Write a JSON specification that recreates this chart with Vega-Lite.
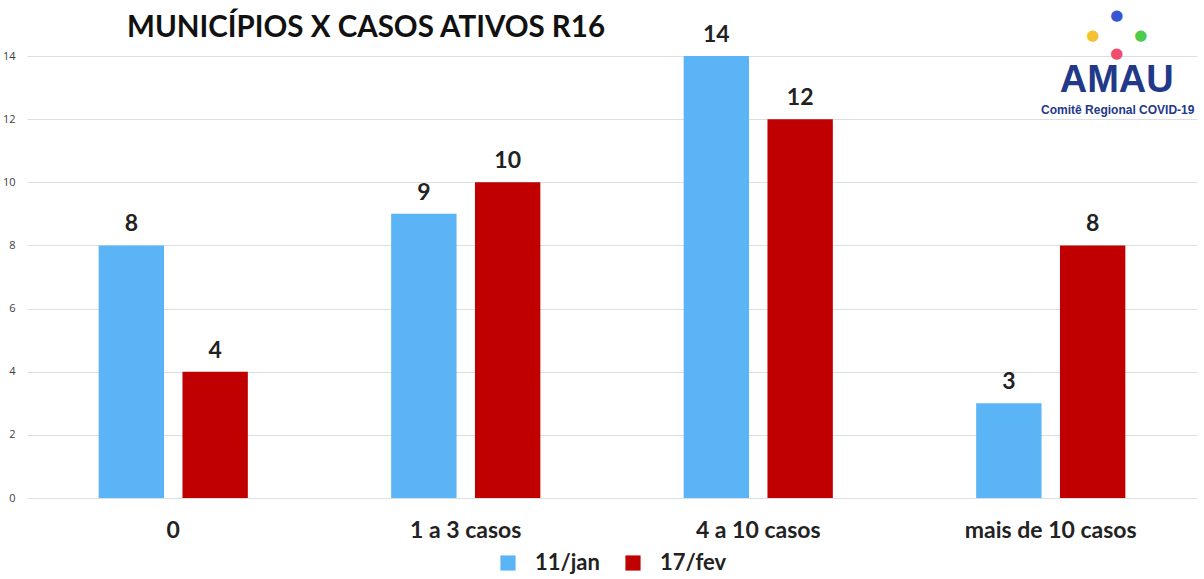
{
  "$schema": "https://vega.github.io/schema/vega-lite/v6.json",
  "width": 1170,
  "height": 442,
  "autosize": {"type": "none"},
  "padding": {"left": 27, "top": 56, "right": 7, "bottom": 81},
  "background": "white",
  "title": {
    "text": "MUNICÍPIOS X CASOS ATIVOS R16",
    "anchor": "start",
    "frame": "group",
    "dx": 100,
    "offset": -35,
    "font": "Lato",
    "fontSize": 29.5,
    "fontWeight": "bold",
    "color": "#111111"
  },
  "config": {
    "view": {"stroke": null},
    "font": "Lato",
    "legend": {"layout": {"bottom": {"anchor": "middle"}}}
  },
  "data": {
    "values": [
      {"faixa": "0", "data": "11/jan", "valor": 8},
      {"faixa": "0", "data": "17/fev", "valor": 4},
      {"faixa": "1 a 3 casos", "data": "11/jan", "valor": 9},
      {"faixa": "1 a 3 casos", "data": "17/fev", "valor": 10},
      {"faixa": "4 a 10 casos", "data": "11/jan", "valor": 14},
      {"faixa": "4 a 10 casos", "data": "17/fev", "valor": 12},
      {"faixa": "mais de 10 casos", "data": "11/jan", "valor": 3},
      {"faixa": "mais de 10 casos", "data": "17/fev", "valor": 8}
    ]
  },
  "encoding": {
    "x": {
      "field": "faixa",
      "type": "nominal",
      "sort": ["0", "1 a 3 casos", "4 a 10 casos", "mais de 10 casos"],
      "scale": {"paddingInner": 0.49, "paddingOuter": 0.245},
      "axis": {
        "title": null,
        "labelAngle": 0,
        "domain": false,
        "ticks": false,
        "labelFont": "Lato",
        "labelFontSize": 23,
        "labelFontWeight": "bold",
        "labelColor": "#222222",
        "labelPadding": 21
      }
    },
    "y": {
      "field": "valor",
      "type": "quantitative",
      "scale": {"domain": [0, 14], "nice": false},
      "axis": {
        "title": null,
        "values": [0, 2, 4, 6, 8, 10, 12, 14],
        "domain": false,
        "ticks": false,
        "labelFont": "Open Sans",
        "labelFontSize": 11,
        "labelColor": "#404040",
        "labelPadding": 12,
        "gridColor": "#d9e0e1",
        "gridWidth": 1
      }
    }
  },
  "layer": [
    {
      "mark": {"type": "bar"},
      "encoding": {
        "xOffset": {
          "field": "data",
          "type": "nominal",
          "scale": {"paddingInner": 0.22}
        },
        "color": {
          "field": "data",
          "type": "nominal",
          "scale": {"domain": ["11/jan", "17/fev"], "range": ["#5BB4F6", "#C00000"]},
          "legend": {
            "title": null,
            "orient": "bottom",
            "direction": "horizontal",
            "symbolType": "square",
            "symbolSize": 230,
            "symbolStrokeWidth": 0,
            "labelFont": "Lato",
            "labelFontSize": 22,
            "labelFontWeight": "bold",
            "labelColor": "#222222",
            "labelOffset": 16,
            "columnPadding": 22,
            "offset": 10
          }
        }
      }
    },
    {
      "mark": {
        "type": "text",
        "baseline": "bottom",
        "dy": -9,
        "font": "Lato",
        "fontSize": 23,
        "fontWeight": "bold",
        "color": "#222222"
      },
      "encoding": {
        "xOffset": {
          "field": "data",
          "type": "nominal",
          "scale": {"paddingInner": 0.22}
        },
        "text": {"field": "valor", "type": "quantitative"}
      }
    },
    {
      "transform": [{"filter": "datum.faixa === '0' && datum.data === '11/jan'"}],
      "mark": {
        "type": "text",
        "text": "AMAU",
        "font": "Liberation Sans",
        "fontSize": 38,
        "fontWeight": "bold",
        "color": "#22398a",
        "dx": 66,
        "baseline": "middle"
      },
      "encoding": {
        "x": {"datum": "mais de 10 casos", "type": "nominal"},
        "y": {"datum": 13.22, "type": "quantitative"}
      }
    },
    {
      "transform": [{"filter": "datum.faixa === '0' && datum.data === '11/jan'"}],
      "mark": {
        "type": "text",
        "text": "Comitê Regional COVID-19",
        "font": "Liberation Sans",
        "fontSize": 12,
        "fontWeight": "bold",
        "color": "#22398a",
        "dx": 67,
        "baseline": "middle"
      },
      "encoding": {
        "x": {"datum": "mais de 10 casos", "type": "nominal"},
        "y": {"datum": 12.3, "type": "quantitative"}
      }
    },
    {
      "transform": [{"filter": "datum.faixa === '0' && datum.data === '11/jan'"}],
      "mark": {"type": "text", "text": "●", "font": "DejaVu Sans", "fontSize": 15, "color": "#3557d6", "dx": 66, "dy": -41, "baseline": "middle"},
      "encoding": {
        "x": {"datum": "mais de 10 casos", "type": "nominal"},
        "y": {"datum": 14, "type": "quantitative"}
      }
    },
    {
      "transform": [{"filter": "datum.faixa === '0' && datum.data === '11/jan'"}],
      "mark": {"type": "text", "text": "●", "font": "DejaVu Sans", "fontSize": 15, "color": "#f4c22e", "dx": 42, "dy": -21, "baseline": "middle"},
      "encoding": {
        "x": {"datum": "mais de 10 casos", "type": "nominal"},
        "y": {"datum": 14, "type": "quantitative"}
      }
    },
    {
      "transform": [{"filter": "datum.faixa === '0' && datum.data === '11/jan'"}],
      "mark": {"type": "text", "text": "●", "font": "DejaVu Sans", "fontSize": 15, "color": "#4fcb4a", "dx": 90, "dy": -21, "baseline": "middle"},
      "encoding": {
        "x": {"datum": "mais de 10 casos", "type": "nominal"},
        "y": {"datum": 14, "type": "quantitative"}
      }
    },
    {
      "transform": [{"filter": "datum.faixa === '0' && datum.data === '11/jan'"}],
      "mark": {"type": "text", "text": "●", "font": "DejaVu Sans", "fontSize": 15, "color": "#f04d6c", "dx": 66, "dy": -3, "baseline": "middle"},
      "encoding": {
        "x": {"datum": "mais de 10 casos", "type": "nominal"},
        "y": {"datum": 14, "type": "quantitative"}
      }
    }
  ]
}
